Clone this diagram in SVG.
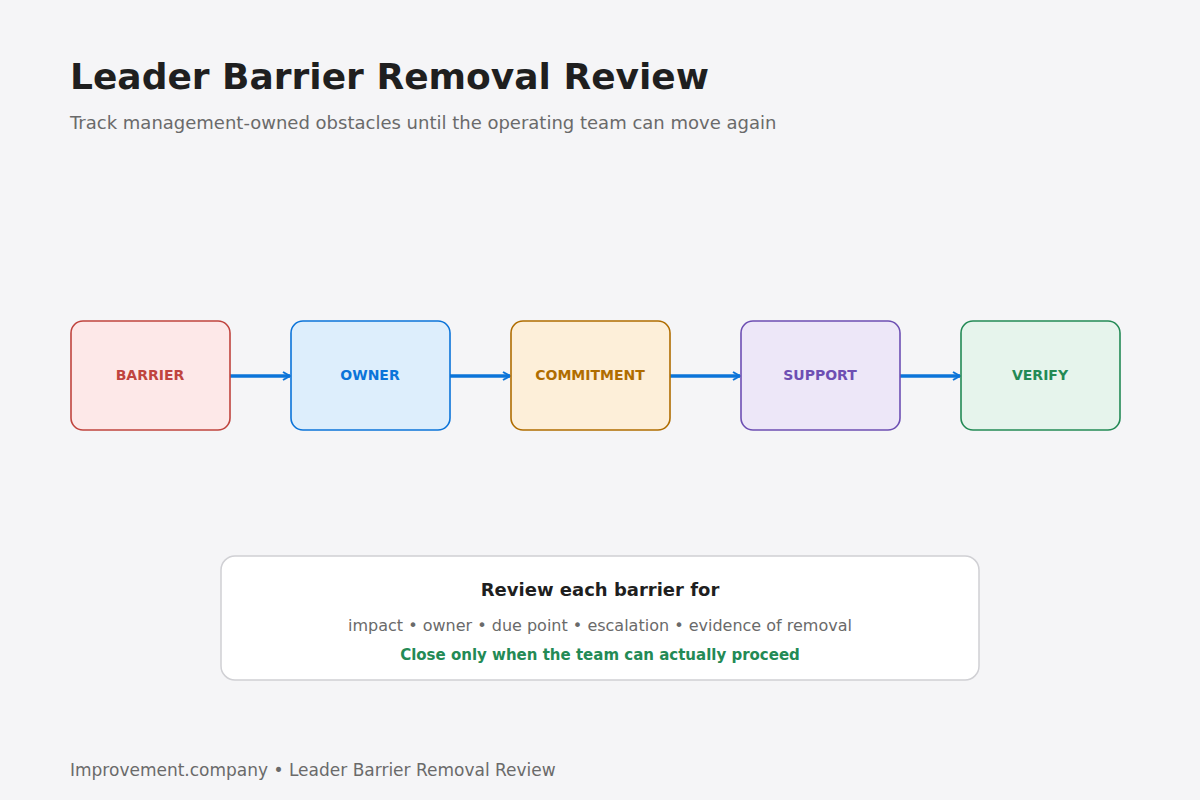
<svg xmlns="http://www.w3.org/2000/svg" width="1200" height="800" viewBox="0 0 1200 800">
<defs>
<marker id="ah" viewBox="0 0 10 10" refX="9" refY="5" markerWidth="10" markerHeight="10" markerUnits="userSpaceOnUse" orient="auto">
<path d="M2,1 L9,5 L2,9" fill="none" stroke="#0b74d9" stroke-width="2"/>
</marker>
<style>
text{font-family:"DejaVu Sans",sans-serif}
.n{stroke-width:1.6}
.lbl{font-size:14px;font-weight:bold;text-anchor:middle}
.c{stroke:#0b74d9;stroke-width:3.5;fill:none}
</style>
</defs>
<rect width="1200" height="800" fill="#f5f5f7"/>
<text x="70" y="89" font-size="36" font-weight="bold" fill="#1f1f1f">Leader Barrier Removal Review</text>
<text x="70" y="129" font-size="18" fill="#6a6a6a">Track management-owned obstacles until the operating team can move again</text>
<g id="connectors">
<line class="c" x1="230" y1="376" x2="290" y2="376" marker-end="url(#ah)"/>
<line class="c" x1="450" y1="376" x2="510" y2="376" marker-end="url(#ah)"/>
<line class="c" x1="670" y1="376" x2="740" y2="376" marker-end="url(#ah)"/>
<line class="c" x1="900" y1="376" x2="960" y2="376" marker-end="url(#ah)"/>
</g>
<g id="barrier"><rect class="n" x="71" y="321" width="159" height="109" rx="12" fill="#fde8e8" stroke="#c0443e"/><text class="lbl" x="150" y="380" fill="#c0443e">BARRIER</text></g>
<g id="owner"><rect class="n" x="291" y="321" width="159" height="109" rx="12" fill="#ddeefc" stroke="#0b74d9"/><text class="lbl" x="370" y="380" fill="#0b74d9">OWNER</text></g>
<g id="commitment"><rect class="n" x="511" y="321" width="159" height="109" rx="12" fill="#fdefd9" stroke="#b06d00"/><text class="lbl" x="590" y="380" fill="#b06d00">COMMITMENT</text></g>
<g id="support"><rect class="n" x="741" y="321" width="159" height="109" rx="12" fill="#ede7f8" stroke="#6d4fb3"/><text class="lbl" x="820" y="380" fill="#6d4fb3">SUPPORT</text></g>
<g id="verify"><rect class="n" x="961" y="321" width="159" height="109" rx="12" fill="#e6f4ec" stroke="#238a55"/><text class="lbl" x="1040" y="380" fill="#238a55">VERIFY</text></g>
<g id="review">
<rect x="221" y="556" width="758" height="124" rx="14" fill="#ffffff" stroke="#d0d0d4" stroke-width="1.5"/>
<text x="600" y="596" font-size="18" font-weight="bold" fill="#1f1f1f" text-anchor="middle">Review each barrier for</text>
<text x="600" y="631" font-size="16" fill="#6a6a6a" text-anchor="middle">impact • owner • due point • escalation • evidence of removal</text>
<text x="600" y="660" font-size="15" font-weight="bold" fill="#238a55" text-anchor="middle">Close only when the team can actually proceed</text>
</g>
<text x="70" y="776" font-size="17" fill="#6a6a6a">Improvement.company • Leader Barrier Removal Review</text>
</svg>
